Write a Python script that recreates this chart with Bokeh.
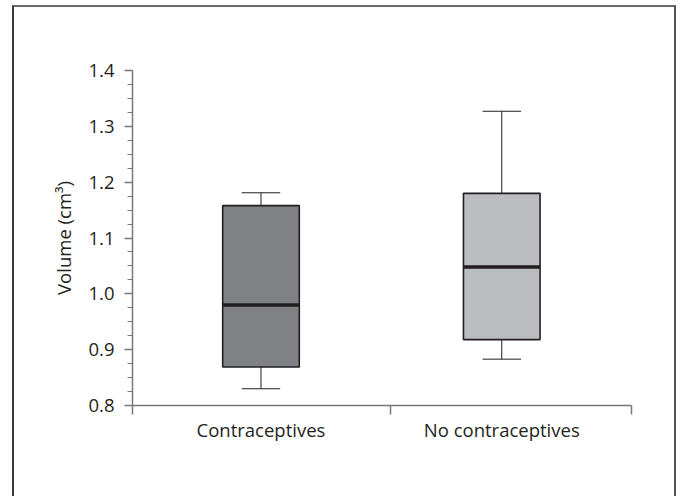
from bokeh.plotting import figure
from bokeh.models import Range1d, FixedTicker, PrintfTickFormatter, ColumnDataSource
from bokeh.embed import file_html
from bokeh.resources import INLINE
import numpy as np

# ---- data ----
groups = ["Contraceptives", "No contraceptives"]
group_x = [0.515, 1.48]          # position of each group on the x axis
separators = [0.0, 1.035, 2.0]   # x-axis tick marks between groups
lower_whisker = [0.830, 0.883]
q1 = [0.869, 0.918]
median = [0.980, 1.048]
q3 = [1.158, 1.180]
upper_whisker = [1.181, 1.327]
fill_colors = ["#808184", "#bcbdc0"]
y_ticks = [0.8, 0.9, 1.0, 1.1, 1.2, 1.3, 1.4]

box_w = 0.307
cap_w = 0.154
ink = "#231f20"
axis_col = "#77787b"
font = "Open Sans"
fs = "18.5px"

src = ColumnDataSource(dict(
    x=group_x, q1=q1, q3=q3, med=median, lo=lower_whisker, hi=upper_whisker,
    fill=fill_colors,
    bl=[x - box_w / 2 for x in group_x], br=[x + box_w / 2 for x in group_x],
    cl=[x - cap_w / 2 for x in group_x], cr=[x + cap_w / 2 for x in group_x],
))

p = figure(width=660, height=489,
           x_range=Range1d(0, 2), y_range=Range1d(0.8, 1.4),
           output_backend="svg", toolbar_location=None,
           min_border_left=118, min_border_right=47,
           min_border_top=63, min_border_bottom=93,
           margin=(5, 0, 0, 12),
           styles={"border-left": "2px solid #3a3a3a",
                   "border-top": "2px solid #6a6a6a",
                   "border-right": "2px solid #555555",
                   "box-sizing": "content-box"})
p.outline_line_color = None
p.xgrid.visible = False
p.ygrid.visible = False
p.background_fill_color = "white"
p.border_fill_color = "white"

# whiskers
p.segment(x0="x", x1="x", y0="q3", y1="hi", source=src, line_color=ink, line_width=1)
p.segment(x0="x", x1="x", y0="lo", y1="q1", source=src, line_color=ink, line_width=1)
p.segment(x0="cl", x1="cr", y0="hi", y1="hi", source=src, line_color=ink, line_width=1)
p.segment(x0="cl", x1="cr", y0="lo", y1="lo", source=src, line_color=ink, line_width=1)
# boxes
p.vbar(x="x", width=box_w, bottom="q1", top="q3", source=src,
       fill_color="fill", line_color=ink, line_width=1.6)
# medians
p.segment(x0="bl", x1="br", y0="med", y1="med", source=src, line_color=ink, line_width=3.5)

# y axis
ya = p.yaxis[0]
ya.ticker = FixedTicker(ticks=y_ticks, minor_ticks=list(np.round(np.arange(0.8, 1.4001, 0.025), 3)))
ya.formatter = PrintfTickFormatter(format="%.1f")
ya.axis_label = "Volume (cm³)"
ya.axis_label_text_font = font
ya.axis_label_text_font_style = "normal"
ya.axis_label_text_font_size = fs
ya.axis_label_text_color = ink
ya.axis_label_standoff = 9
ya.major_label_text_font = font
ya.major_label_text_font_size = fs
ya.major_label_text_color = ink
ya.major_label_standoff = 10
ya.axis_line_color = axis_col
ya.axis_line_width = 1.5
ya.major_tick_line_color = axis_col
ya.minor_tick_line_color = axis_col
ya.major_tick_line_width = 1.5
ya.minor_tick_line_width = 1.2
ya.major_tick_in = 0
ya.major_tick_out = 8
ya.minor_tick_in = 0
ya.minor_tick_out = 5

# x axis
xa = p.xaxis[0]
xa.ticker = FixedTicker(ticks=group_x, minor_ticks=separators)
xa.major_label_overrides = {x: g for x, g in zip(group_x, groups)}
xa.major_label_text_font = font
xa.major_label_text_font_size = fs
xa.major_label_text_color = ink
xa.major_label_standoff = 2
xa.axis_line_color = axis_col
xa.axis_line_width = 1.5
xa.major_tick_line_color = None
xa.major_tick_out = 0
xa.major_tick_in = 0
xa.minor_tick_line_color = axis_col
xa.minor_tick_line_width = 1.5
xa.minor_tick_in = 0
xa.minor_tick_out = 9

open("out.html", "w").write(file_html(p, INLINE))
